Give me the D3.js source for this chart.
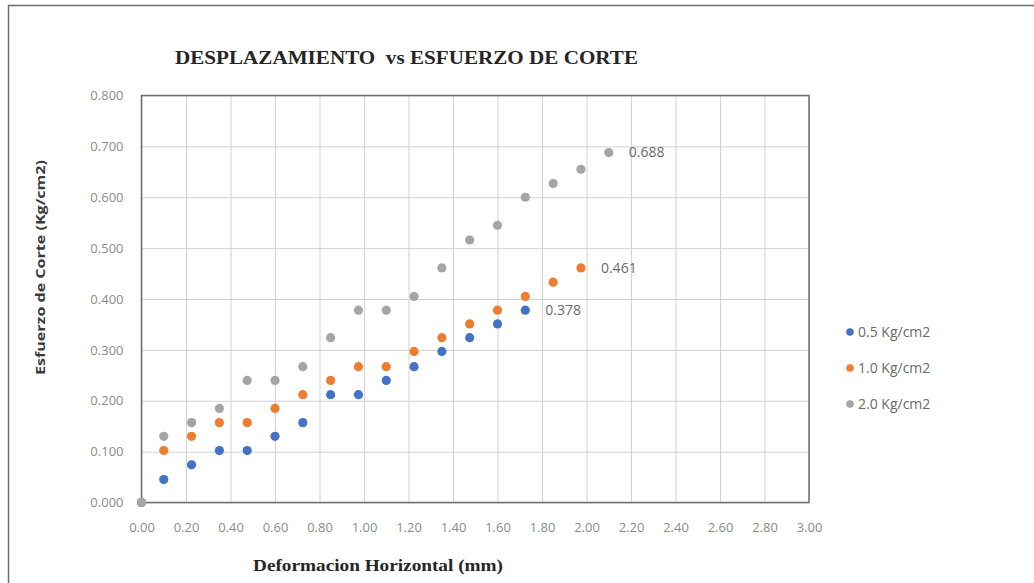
<!DOCTYPE html>
<html>
<head>
<meta charset="utf-8">
<script src="https://cdn.jsdelivr.net/npm/d3@7"></script>
<style>
  html, body { margin: 0; padding: 0; background: #fff; }
  svg { display: block; }
</style>
</head>
<body>
<svg id="chart" width="1034" height="583"></svg>
<script>
// ---- data ----
const xValues = [0, 0.10, 0.225, 0.35, 0.475, 0.60, 0.725, 0.85, 0.975, 1.10, 1.225, 1.35, 1.475, 1.60, 1.725, 1.85, 1.975, 2.10];
const seriesNames = ["0.5 Kg/cm2", "1.0 Kg/cm2", "2.0 Kg/cm2"];
const s05 = [0, 0.045, 0.074, 0.102, 0.102, 0.130, 0.157, 0.212, 0.212, 0.240, 0.267, 0.297, 0.324, 0.351, 0.378];
const s10 = [0, 0.102, 0.130, 0.157, 0.157, 0.185, 0.212, 0.240, 0.267, 0.267, 0.297, 0.324, 0.351, 0.378, 0.405, 0.433, 0.461];
const s20 = [0, 0.130, 0.157, 0.185, 0.240, 0.240, 0.267, 0.324, 0.378, 0.378, 0.405, 0.461, 0.516, 0.545, 0.600, 0.627, 0.655, 0.688];
const xTicks = [0, 0.2, 0.4, 0.6, 0.8, 1.0, 1.2, 1.4, 1.6, 1.8, 2.0, 2.2, 2.4, 2.6, 2.8, 3.0];
const yTicks = [0, 0.1, 0.2, 0.3, 0.4, 0.5, 0.6, 0.7, 0.8];
const titleText = "DESPLAZAMIENTO  vs ESFUERZO DE CORTE";
const xTitle = "Deformacion Horizontal (mm)";
const yTitle = "Esfuerzo de Corte (Kg/cm2)";

// ---- layout & style ----
const colors = ["#4472C4", "#ED7D31", "#A5A5A5"];
const svg = d3.select("#chart");
const pL = 141.5, pR = 809, pT = 95.5, pB = 502.5;
const x = d3.scaleLinear().domain([0, 3]).range([pL, pR]);
const y = d3.scaleLinear().domain([0, 0.8]).range([pB, pT]);

// outer frame
svg.append("path")
  .attr("d", `M8.5,583 V5.5 H1034`)
  .attr("fill", "none").attr("stroke", "#6e6e6e").attr("stroke-width", 1.5);

// gridlines
svg.append("g").attr("transform", `translate(0,${pB})`)
  .call(d3.axisBottom(x).tickValues(xTicks).tickSize(-(pB - pT)).tickFormat(""))
  .call(g => g.select(".domain").remove())
  .call(g => g.selectAll("line").attr("stroke", "#d2d2d2").attr("stroke-width", 1));
svg.append("g").attr("transform", `translate(${pL},0)`)
  .call(d3.axisLeft(y).tickValues(yTicks).tickSize(-(pR - pL)).tickFormat(""))
  .call(g => g.select(".domain").remove())
  .call(g => g.selectAll("line").attr("stroke", "#d2d2d2").attr("stroke-width", 1));

// plot border
svg.append("rect")
  .attr("x", pL).attr("y", pT)
  .attr("width", pR - pL).attr("height", pB - pT)
  .attr("fill", "none").attr("stroke", "#6e6e6e").attr("stroke-width", 1.5);

// tick labels
const xAx = svg.append("g").attr("transform", `translate(0,${pB})`)
  .call(d3.axisBottom(x).tickValues(xTicks).tickSize(0).tickPadding(20).tickFormat(d3.format(".2f")));
xAx.select(".domain").remove();
xAx.selectAll("text").attr("font-family", "'Open Sans', sans-serif").attr("font-size", 13)
  .attr("fill", "#8c8c8c");

const yAx = svg.append("g").attr("transform", `translate(${pL},0)`)
  .call(d3.axisLeft(y).tickValues(yTicks).tickSize(0).tickPadding(18).tickFormat(d3.format(".3f")));
yAx.select(".domain").remove();
yAx.selectAll("text").attr("font-family", "'Open Sans', sans-serif").attr("font-size", 13)
  .attr("fill", "#8c8c8c");

// data points
const allSeries = [s05, s10, s20];
allSeries.forEach((vals, i) => {
  const pts = vals.map((v, k) => ({ x: xValues[k], y: v }));
  svg.append("g").selectAll("circle").data(pts).join("circle")
    .attr("cx", d => x(d.x)).attr("cy", d => y(d.y)).attr("r", 4.6)
    .attr("fill", colors[i]);
  const last = pts[pts.length - 1];
  svg.append("text")
    .attr("x", x(last.x) + 20).attr("y", y(last.y) + 5)
    .attr("font-family", "'Open Sans', sans-serif").attr("font-size", 14)
    .attr("fill", "#6a6a6a")
    .text(d3.format(".3f")(last.y));
});

// legend
const legend = svg.append("g");
seriesNames.forEach((name, i) => {
  const ly = 332 + i * 36;
  legend.append("circle").attr("cx", 850).attr("cy", ly).attr("r", 3.8).attr("fill", colors[i]);
  legend.append("text").attr("x", 858).attr("y", ly + 5)
    .attr("font-family", "'Open Sans', sans-serif").attr("font-size", 14)
    .attr("fill", "#6a6a6a").text(name);
});

// title
svg.append("text")
  .attr("x", 175).attr("y", 64)
  .attr("font-family", "'Liberation Serif', 'Times New Roman', serif")
  .attr("font-weight", "bold").attr("font-size", 19)
  .attr("fill", "#262626")
  .attr("textLength", 463).attr("lengthAdjust", "spacingAndGlyphs")
  .style("white-space", "pre")
  .text(titleText);

// x axis title
svg.append("text")
  .attr("x", 253).attr("y", 571)
  .attr("font-family", "'Liberation Serif', 'Times New Roman', serif")
  .attr("font-weight", "bold").attr("font-size", 16)
  .attr("fill", "#262626")
  .attr("textLength", 250).attr("lengthAdjust", "spacingAndGlyphs")
  .text(xTitle);

// y axis title
svg.append("text")
  .attr("transform", `translate(45,375) rotate(-90)`)
  .attr("font-family", "'Open Sans', sans-serif")
  .attr("font-weight", "bold").attr("font-size", 13)
  .attr("fill", "#3a3a3a")
  .attr("textLength", 215).attr("lengthAdjust", "spacingAndGlyphs")
  .text(yTitle);
</script>
</body>
</html>
